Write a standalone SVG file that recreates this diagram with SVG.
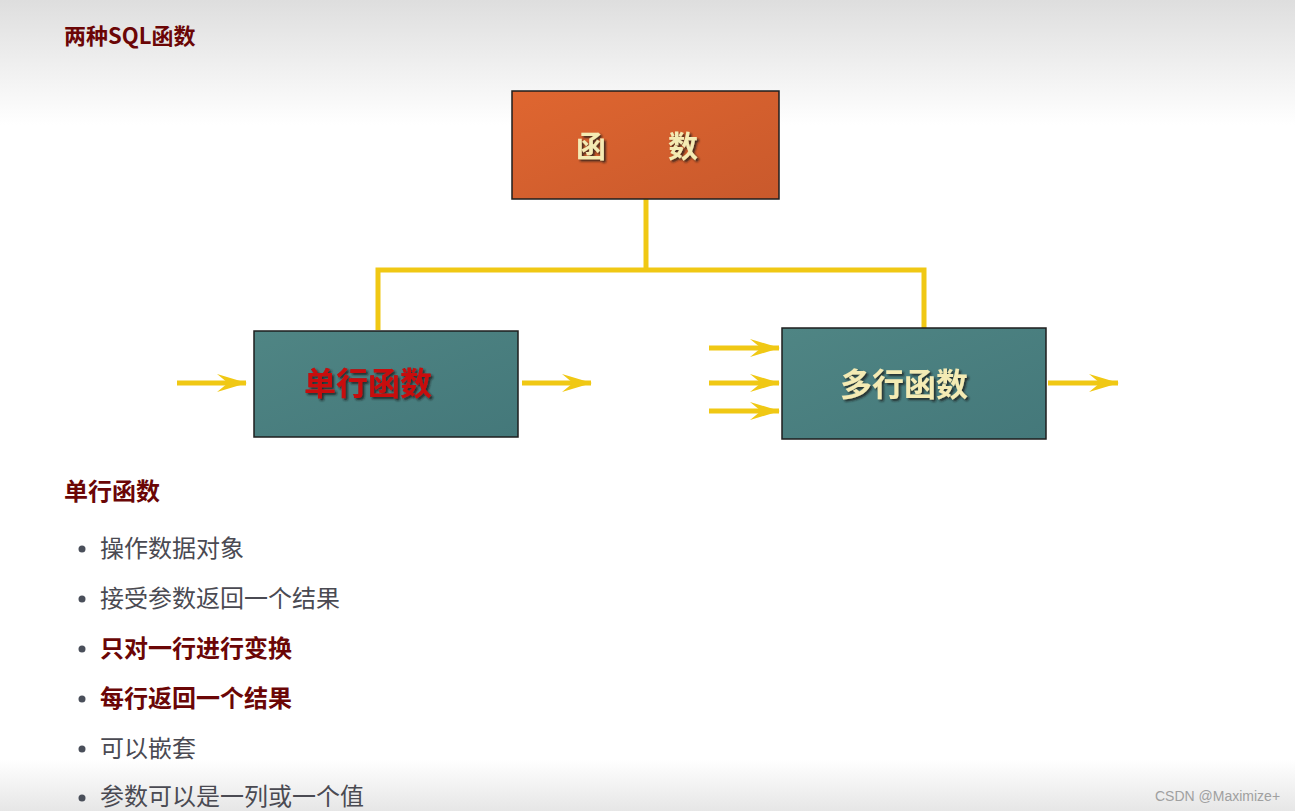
<svg xmlns="http://www.w3.org/2000/svg" width="1295" height="811" viewBox="0 0 1295 811">
<defs>
<linearGradient id="topbg" x1="0" y1="0" x2="0" y2="1">
<stop offset="0" stop-color="#dedede"/><stop offset="1" stop-color="#ffffff"/>
</linearGradient>
<linearGradient id="botbg" x1="0" y1="0" x2="0" y2="1">
<stop offset="0" stop-color="#ffffff"/><stop offset="1" stop-color="#e6e6e6"/>
</linearGradient>
<linearGradient id="orange" x1="0" y1="0" x2="1" y2="1">
<stop offset="0" stop-color="#df6630"/><stop offset="1" stop-color="#c9592c"/>
</linearGradient>
<linearGradient id="teal" x1="0" y1="0" x2="1" y2="1">
<stop offset="0" stop-color="#4f8584"/><stop offset="1" stop-color="#44787a"/>
</linearGradient>
<marker id="ah" viewBox="0 0 30 18" refX="29" refY="9" markerWidth="30" markerHeight="18" markerUnits="userSpaceOnUse" orient="auto">
<path d="M0,0 L30,9 L0,18 L11,9 Z" fill="#f0c814"/>
</marker>
<filter id="sh" x="-10%" y="-10%" width="130%" height="140%">
<feDropShadow dx="2" dy="2" stdDeviation="0.8" flood-color="#1a1a1a" flood-opacity="0.8"/>
</filter>
</defs>
<style>
.box{stroke:#1e1e1e;stroke-width:1.5}
.lbl{font-family:"Liberation Serif","Noto Sans CJK SC",serif;font-weight:bold;font-size:32px;text-anchor:middle}
.cream{fill:#f4ebb4}
.red{fill:#c80808}
.conn{fill:none;stroke:#f0c814;stroke-width:5}
.arr{fill:none;stroke:#f0c814;stroke-width:5;marker-end:url(#ah)}
.h{font-family:"Noto Sans CJK SC","Noto Sans",sans-serif;font-weight:bold;font-size:24px;fill:#6b0606}
.li{font-family:"Noto Sans CJK SC","Noto Sans",sans-serif;font-size:24px;fill:#4a4a52}
.lib{font-family:"Noto Sans CJK SC","Noto Sans",sans-serif;font-size:24px;font-weight:bold;fill:#6b0606}
.dot{fill:#4a4f5a}
</style>
<rect x="0" y="0" width="1295" height="811" fill="#ffffff"/>
<rect x="0" y="0" width="1295" height="125" fill="url(#topbg)"/>
<rect x="0" y="760" width="1295" height="51" fill="url(#botbg)"/>

<text class="h" x="64" y="44" style="font-size:22px">两种SQL函数</text>

<g id="connectors">
<polyline class="conn" points="646,199 646,270"/>
<polyline class="conn" points="378,330 378,270 924,270 924,328"/>
<line class="arr" x1="177" y1="383" x2="246" y2="383"/>
<line class="arr" x1="522" y1="383" x2="591" y2="383"/>
<line class="arr" x1="709" y1="348" x2="779" y2="348"/>
<line class="arr" x1="709" y1="383" x2="779" y2="383"/>
<line class="arr" x1="709" y1="411" x2="779" y2="411"/>
<line class="arr" x1="1048" y1="383" x2="1118" y2="383"/>
</g>

<g id="node-func">
<rect class="box" x="512" y="91" width="267" height="108" fill="url(#orange)"/>
<text class="lbl cream" filter="url(#sh)" x="591" y="157" style="font-size:30px">函</text>
<text class="lbl cream" filter="url(#sh)" x="683" y="157" style="font-size:30px">数</text>
</g>

<g id="node-single">
<rect class="box" x="254" y="331" width="264" height="106" fill="url(#teal)"/>
<text class="lbl red" filter="url(#sh)" x="368" y="395">单行函数</text>
</g>

<g id="node-multi">
<rect class="box" x="782" y="328" width="264" height="111" fill="url(#teal)"/>
<text class="lbl cream" filter="url(#sh)" x="904" y="396">多行函数</text>
</g>

<text class="h" x="64" y="500">单行函数</text>
<g id="list">
<circle class="dot" cx="82" cy="549" r="3.5"/><text class="li" x="100" y="557">操作数据对象</text>
<circle class="dot" cx="82" cy="599" r="3.5"/><text class="li" x="100" y="607">接受参数返回一个结果</text>
<circle class="dot" cx="82" cy="649" r="3.5"/><text class="lib" x="100" y="657">只对一行进行变换</text>
<circle class="dot" cx="82" cy="699" r="3.5"/><text class="lib" x="100" y="707">每行返回一个结果</text>
<circle class="dot" cx="82" cy="749" r="3.5"/><text class="li" x="100" y="757">可以嵌套</text>
<circle class="dot" cx="82" cy="798" r="3.5"/><text class="li" x="100" y="805">参数可以是一列或一个值</text>
</g>
<text x="1155" y="801" font-family="Liberation Sans, Arial, sans-serif" font-size="14" fill="#a0a0a0">CSDN @Maximize+</text>
</svg>
